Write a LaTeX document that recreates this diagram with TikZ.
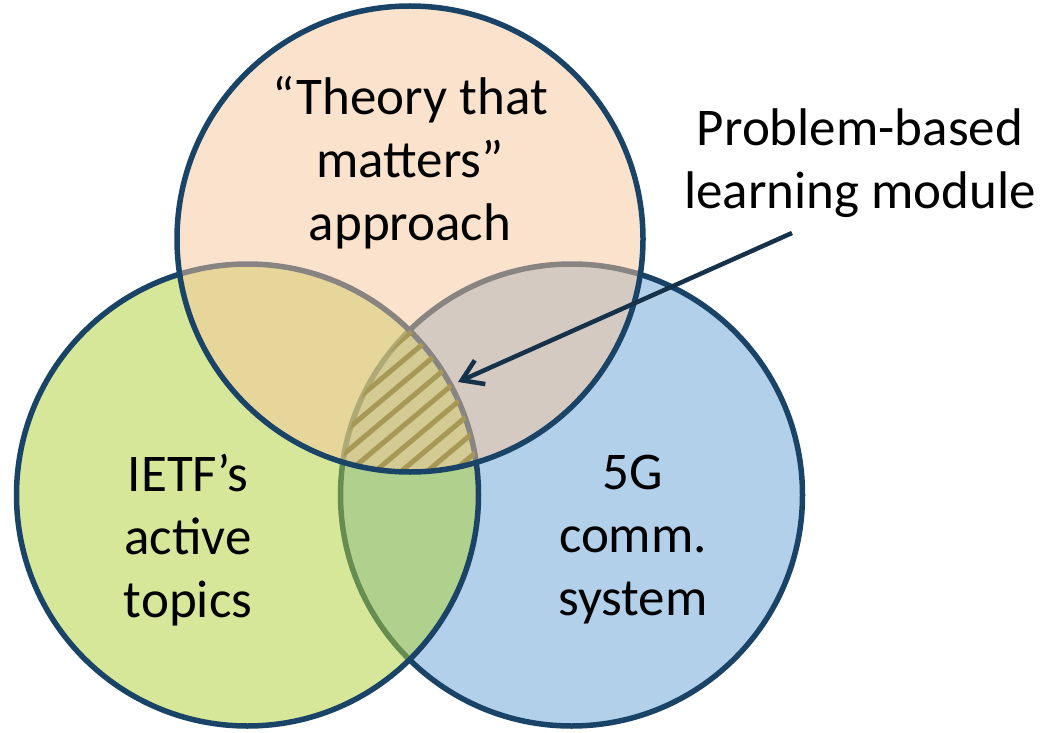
\documentclass[tikz,border=0pt]{standalone}
\usepackage{fontspec}
\setmainfont{Carlito}
\usetikzlibrary{arrows.meta}
\definecolor{edgeblue}{RGB}{25,68,103}
\definecolor{bluefill}{RGB}{178,208,234}
\definecolor{greenfill}{RGB}{176,209,59}
\definecolor{peachfill}{RGB}{247,197,155}
\definecolor{hatchcol}{RGB}{168,152,85}
\definecolor{arrowcol}{RGB}{22,50,75}
\tikzset{
  ring/.style={draw=edgeblue, line width=5.5pt},
  label/.style={align=center, font=\fontsize{53}{63}\selectfont, text=black, inner sep=0pt},
  hatchline/.style={draw=hatchcol, line width=5pt},
  pointer/.style={draw=arrowcol, line width=4.5pt, -{Straight Barb[length=20pt,width=26pt]}}
}
\begin{document}
\begin{tikzpicture}[x=1pt,y=-1pt]
\useasboundingbox (0,0) rectangle (1044,733);
\coordinate (cR) at (571.5,495);
\coordinate (cL) at (247.5,495);
\coordinate (cT) at (410,239);
% right (blue) circle
\fill[bluefill] (cR) circle (231pt);
\draw[ring] (cR) circle (231pt);
% left (green) circle, translucent fill
\fill[greenfill, fill opacity=0.52] (cL) circle (231pt);
\draw[ring] (cL) circle (231pt);
% top (peach) circle, translucent fill
\fill[peachfill, fill opacity=0.5] (cT) circle (233pt);
% hatching of the triple intersection
\begin{scope}
  \clip (cT) circle (233pt);
  \clip (cL) circle (231pt);
  \clip (cR) circle (231pt);
  \foreach \k in {-10,...,10} {
    \draw[hatchline] ({353+26*\k-250},700) -- ({353+26*\k+250},280);
  }
\end{scope}
\draw[ring] (cT) circle (233pt);
% labels
\node[label] (top) at (410,163) {“Theory that\\matters”\\approach};
\node[label] (left) at (188,540) {IETF’s\\active\\topics};
\node[label] (right) at (633,540) {5G\\comm.\\system};
\node[label] (pbl) at (860,163) {Problem-based\\learning module};
\coordinate (a0) at (792,233);
\coordinate (a1) at (458,382);
\draw[pointer] (a0) -- (a1);
\end{tikzpicture}
\end{document}
